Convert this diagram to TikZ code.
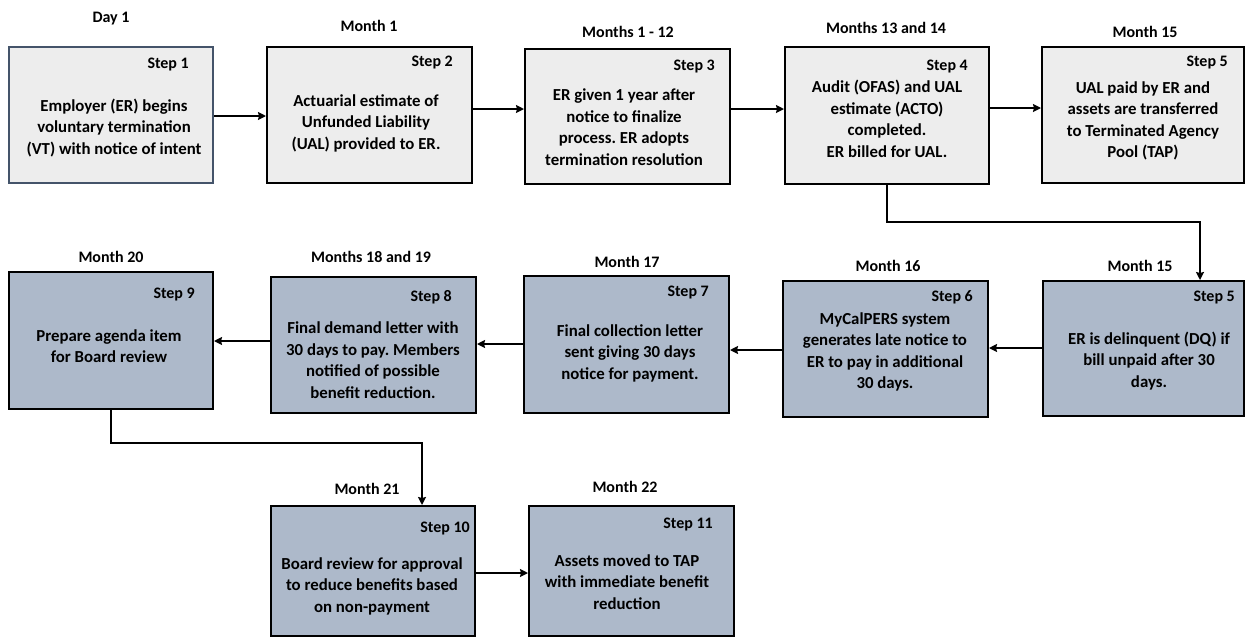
\documentclass[tikz,border=0pt]{standalone}
\usepackage{fontspec}
\setmainfont{Carlito}
\usetikzlibrary{arrows.meta}
\frenchspacing
\definecolor{boxgray}{HTML}{EDEDED}
\definecolor{boxblue}{HTML}{ADB9CA}
\definecolor{firstborder}{HTML}{44546A}
\tikzset{
  stepbox/.style={draw=black, line width=2pt, rectangle, inner sep=0pt},
  graybox/.style={stepbox, fill=boxgray},
  bluebox/.style={stepbox, fill=boxblue},
  bodytext/.style={align=center, inner sep=0pt, font=\fontsize{16.8}{21.5}\selectfont\bfseries},
  steplabel/.style={anchor=east, inner sep=0pt, font=\fontsize{16}{19}\selectfont\bfseries},
  timelabel/.style={inner sep=0pt, font=\fontsize{16}{19}\selectfont\bfseries},
  arr/.style={line width=2pt, -{Stealth[length=8pt,width=8pt,inset=1pt]}},
}
\begin{document}
\begin{tikzpicture}[x=1pt,y=-1pt]
\useasboundingbox (0,0) rectangle (1246,638);
% row 1 boxes
\node[graybox, draw=firstborder, minimum width=204pt, minimum height=136pt] (b1) at (111,115) {};
\node[graybox, minimum width=205pt, minimum height=136pt] (b2) at (369.5,115) {};
\node[graybox, minimum width=205pt, minimum height=135pt] (b3) at (627.5,116.5) {};
\node[graybox, minimum width=204pt, minimum height=137pt] (b4) at (887,115.5) {};
\node[graybox, minimum width=202pt, minimum height=136pt] (b5) at (1143,115) {};
% row 2 boxes
\node[bluebox, minimum width=204pt, minimum height=137pt] (b9) at (111,340.5) {};
\node[bluebox, minimum width=205pt, minimum height=136pt] (b8) at (373.5,345) {};
\node[bluebox, minimum width=205pt, minimum height=137pt] (b7) at (626.5,344.5) {};
\node[bluebox, minimum width=205pt, minimum height=136pt] (b6) at (885.5,349) {};
\node[bluebox, minimum width=201pt, minimum height=135pt] (b5b) at (1143.5,348.5) {};
% row 3 boxes
\node[bluebox, minimum width=204pt, minimum height=130pt] (b10) at (373,571) {};
\node[bluebox, minimum width=205pt, minimum height=130pt] (b11) at (631.5,571) {};

% time labels
\node[timelabel] (t1) at (111,19) {Day 1};
\node[timelabel] (t2) at (369,26) {Month 1};
\node[timelabel] (t3) at (628,32) {Months 1 - 12};
\node[timelabel] (t4) at (886,28) {Months 13 and 14};
\node[timelabel] (t5) at (1145,32) {Month 15};
\node[timelabel] (t9) at (111,257) {Month 20};
\node[timelabel] (t8) at (371,257) {Months 18 and 19};
\node[timelabel] (t7) at (627,262) {Month 17};
\node[timelabel] (t6) at (888,266) {Month 16};
\node[timelabel] (t5b) at (1140,266) {Month 15};
\node[timelabel] (t10) at (367,489) {Month 21};
\node[timelabel] (t11) at (625,487) {Month 22};

% step labels
\node[steplabel] (s1) at (189,65) {Step 1};
\node[steplabel] (s2) at (453,63) {Step 2};
\node[steplabel] (s3) at (715,67) {Step 3};
\node[steplabel] (s4) at (968,67) {Step 4};
\node[steplabel] (s5) at (1228,63) {Step 5};
\node[steplabel] (s9) at (195,295) {Step 9};
\node[steplabel] (s8) at (452,297) {Step 8};
\node[steplabel] (s7) at (709,293) {Step 7};
\node[steplabel] (s6) at (973,297) {Step 6};
\node[steplabel] (s5b) at (1235,298) {Step 5};
\node[steplabel] (s10) at (470,528) {Step 10};
\node[steplabel] (s11) at (713,524) {Step 11};

% body texts
\node[bodytext] (x1) at (114,128) {Employer (ER) begins\\voluntary termination\\(VT) with notice of intent};
\node[bodytext] (x2) at (366,123) {Actuarial estimate of\\Unfunded Liability\\(UAL) provided to ER.};
\node[bodytext] (x3) at (624,127) {ER given 1 year after\\notice to finalize\\process. ER adopts\\termination resolution};
\node[bodytext] (x4) at (887,119) {Audit (OFAS) and UAL\\estimate (ACTO)\\completed.\\ER billed for UAL.};
\node[bodytext] (x5) at (1143,121) {UAL paid by ER and\\assets are transferred\\to Terminated Agency\\Pool (TAP)};
\node[bodytext] (x9) at (109,346) {Prepare agenda item\\for Board review};
\node[bodytext] (x8) at (373,360) {Final demand letter with\\30 days to pay. Members\\notified of possible\\benefit reduction.};
\node[bodytext] (x7) at (630,353) {Final collection letter\\sent giving 30 days\\notice for payment.};
\node[bodytext] (x6) at (885,352) {MyCalPERS system\\generates late notice to\\ER to pay in additional\\30 days.};
\node[bodytext] (x5b) at (1149,361) {ER is delinquent (DQ) if\\bill unpaid after 30\\days.};
\node[bodytext] (x10) at (372,586) {Board review for approval\\to reduce benefits based\\on non-payment};
\node[bodytext] (x11) at (627,582) {Assets moved to TAP\\with immediate benefit\\reduction};

% connectors
\draw[arr] (b1.east |- 0,116) -- (b2.west |- 0,116);
\draw[arr] (b2.east |- 0,109) -- (b3.west |- 0,109);
\draw[arr] (b3.east |- 0,109) -- (b4.west |- 0,109);
\draw[arr] (b4.east |- 0,108) -- (b5.west |- 0,108);
\draw[arr] (b4.south) -- (b4.south |- 0,222) -| (b5b.north -| 1200,0);
\draw[arr] (b5b.west |- 0,348) -- (b6.east |- 0,348);
\draw[arr] (b6.west |- 0,350) -- (b7.east |- 0,350);
\draw[arr] (b7.west |- 0,344) -- (b8.east |- 0,344);
\draw[arr] (b8.west |- 0,341) -- (b9.east |- 0,341);
\draw[arr] (b9.south) -- (b9.south |- 0,443) -| (b10.north -| 422,0);
\draw[arr] (b10.east |- 0,573) -- (b11.west |- 0,573);
\end{tikzpicture}
\end{document}
